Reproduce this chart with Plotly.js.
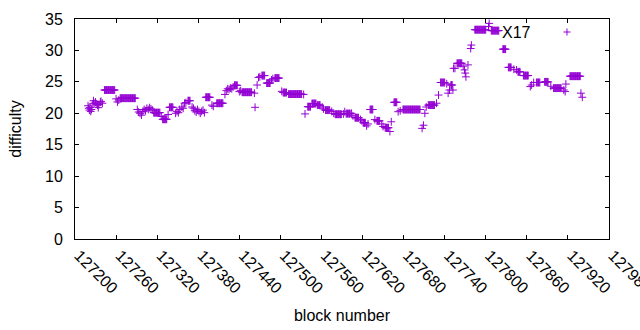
<!DOCTYPE html>
<html><head><meta charset="utf-8">
<script src="https://cdn.plot.ly/plotly-3.0.1.min.js"></script>
<style>html,body{margin:0;padding:0;background:#fff}#chart{width:640px;height:330px}</style>
</head><body><div id="chart"></div>
<script>
// Flat runs: difficulty held constant over consecutive blocks
const runStart = [127243,127266,127315,127328,127338,127365,127391,127407,127433,127444,127473,127480,127492,127504,127512,127540,127546,127554,127566,127580,127596,127609,127621,127631,127641,127653,127666,127679,127716,127734,127749,127758,127784,127808,127825,127833,127847,127855,127874,127886,127899,127923];
const runEnd   = [127258,127288,127324,127334,127343,127368,127397,127416,127437,127458,127477,127485,127498,127509,127531,127544,127552,127558,127572,127589,127602,127614,127624,127635,127645,127658,127670,127704,127725,127740,127751,127765,127800,127819,127829,127837,127850,127862,127879,127891,127910,127938];
const runDiff  = [23.7,22.4,20.1,19.05,20.95,22.0,22.55,21.6,24.45,23.35,26.0,24.8,25.6,23.3,23.05,21.05,21.55,21.3,20.5,19.85,19.95,19.3,18.5,20.6,18.8,17.7,21.75,20.6,21.3,24.9,24.5,27.95,33.3,33.15,30.2,27.3,26.6,26.0,24.9,25.0,24.0,25.9];

// Individual blocks outside the flat runs
const ptBlock = [127219,127220,127221,127222,127223,127224,127226,127227,127228,127230,127231,127233,127234,127235,127237,127238,127240,
  127260,127262,127264,
  127291,127293,127295,127297,127299,127301,127303,127305,127307,127309,127311,127313,
  127326,127336,
  127347,127349,127351,127353,127356,127358,127360,127362,
  127371,127373,127375,127377,127379,127381,127383,127385,127387,127389,
  127400,127402,
  127419,127421,127423,127425,127427,127429,127431,
  127440,127442,
  127462,127463,127466,127468,127470,
  127487,127489,127502,
  127534,127536,
  127561,127563,127575,127578,127592,127594,127604,127606,127617,127619,127626,127628,127638,127648,127650,127660,127662,127672,127675,
  127707,127709,127711,127713,127728,127731,
  127743,127745,127747,127752,127753,127755,
  127767,127769,127770,127771,127774,127778,127779,
  127804,127805,127841,127845,127865,127867,127870,127895,127914,127916,127917,127939,127941];
const ptDiff = [21.2,20.8,20.5,20.9,20.3,20.6,21.5,22.0,21.6,21.8,21.5,21.3,20.9,21.4,21.8,21.9,21.6,
  22.3,21.8,22.1,
  20.6,20.2,20.0,19.7,20.3,20.6,20.4,20.8,20.6,20.9,20.7,20.5,
  19.5,19.8,
  20.0,20.3,20.1,20.6,21.0,20.8,21.6,21.7,
  21.0,20.8,20.4,20.2,20.6,20.3,20.0,20.3,20.5,20.1,
  21.3,21.1,
  23.0,23.6,23.9,23.8,24.0,23.9,24.2,
  23.45,23.6,
  23.2,20.95,24.5,25.7,25.8,
  25.3,25.5,23.5,
  23.0,19.9,
  21.0,20.7,20.3,20.0,19.9,20.25,20.0,19.6,19.0,18.8,18.0,18.3,19.0,18.3,17.9,17.1,18.65,20.25,20.4,
  17.6,18.1,20.0,21.0,21.6,22.9,
  24.7,23.2,23.7,23.7,27.15,27.15,
  27.5,26.9,26.4,25.8,27.7,30.3,30.85,
  33.8,34.3,27.0,26.9,24.25,24.5,24.9,24.3,23.7,23.45,24.65,23.2,22.55];

const xTicks = [127200,127260,127320,127380,127440,127500,127560,127620,127680,127740,127800,127860,127920,127980];
const seriesName = 'X17';

const pts = [];
runStart.forEach((s, i) => { for (let b = s; b <= runEnd[i]; b++) pts.push([b, runDiff[i]]); });
ptBlock.forEach((b, i) => pts.push([b, ptDiff[i]]));
pts.sort((a, b) => a[0] - b[0]);

const color = '#9400d3';
const font = {family: 'Liberation Sans, Arial, sans-serif', size: 16, color: '#000'};

const trace = {
  x: pts.map(p => p[0]), y: pts.map(p => p[1]),
  type: 'scatter', mode: 'markers', name: seriesName, showlegend: false,
  marker: {symbol: 'cross-thin-open', size: 5.6, color: color, line: {color: color, width: 1}}
};

const lx = 0.9213, ly = 0.9409, dx = 3.5/534, dy = 3.5/220;
const layout = {
  width: 640, height: 330,
  margin: {l: 75, r: 31, t: 19, b: 91},
  paper_bgcolor: '#fff', plot_bgcolor: '#fff',
  font: font,
  xaxis: {
    range: [127200, 127980], tickvals: xTicks, ticktext: xTicks.map(String),
    tickangle: 45, ticks: 'inside', ticklen: 4, tickcolor: '#000',
    showline: true, linecolor: '#000', linewidth: 1, mirror: 'ticks',
    showgrid: false, zeroline: false, ticklabelstandoff: 0, ticklabelshift: 4,
    ticklabeloverflow: 'allow',
    title: {text: 'block number', font: font, standoff: 13}
  },
  yaxis: {
    range: [0, 35], dtick: 5, tick0: 0, ticks: 'inside', ticklen: 4, tickcolor: '#000',
    showline: true, linecolor: '#000', linewidth: 1, mirror: 'ticks',
    showgrid: false, zeroline: false, ticklabelstandoff: 8,
    title: {text: 'difficulty', font: font, standoff: 19}
  },
  annotations: [{xref: 'paper', yref: 'paper', x: 0.8577, y: ly, text: seriesName,
    showarrow: false, xanchor: 'right', yanchor: 'middle', font: font}],
  shapes: [
    {type: 'line', xref: 'paper', yref: 'paper', x0: lx - dx, x1: lx + dx, y0: ly, y1: ly, line: {color: color, width: 1}},
    {type: 'line', xref: 'paper', yref: 'paper', x0: lx, x1: lx, y0: ly - dy, y1: ly + dy, line: {color: color, width: 1}}
  ]
};

Plotly.newPlot('chart', [trace], layout, {displayModeBar: false, staticPlot: true});
</script>
</body></html>
